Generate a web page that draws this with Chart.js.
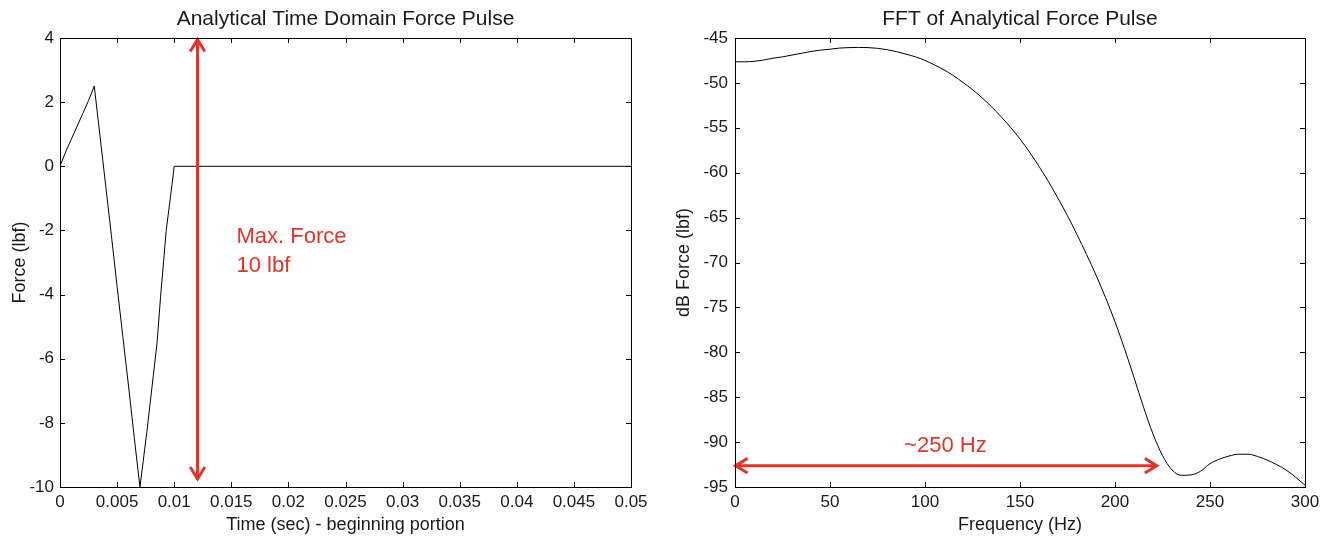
<!DOCTYPE html>
<html>
<head>
<meta charset="utf-8">
<script src="https://cdn.jsdelivr.net/npm/chart.js@4.4.0/dist/chart.umd.min.js"></script>
<style>
    html, body { margin: 0; padding: 0; background: #fff; }
    .panel { position: absolute; top: 0; width: 669px; height: 544px; }
    #leftPanel { left: 0; }
    #rightPanel { left: 669px; }
</style>
</head>
<body>
<div class="panel" id="leftPanel"><canvas id="pulseChart"></canvas></div>
<div class="panel" id="rightPanel"><canvas id="fftChart"></canvas></div>
<script>
// Pulso de fuerza en el dominio del tiempo
const timeSec = [0, 0.0005, 0.001, 0.0015, 0.002, 0.0025, 0.003, 0.0035, 0.004, 0.0045, 0.005, 0.0055, 0.006, 0.0065, 0.007,
    0.0076, 0.0085, 0.0088, 0.0093, 0.0098, 0.01, 0.05];
const forceLbf = [0, 0.45, 0.85, 1.25, 1.65, 2.05, 2.5, 0.95, -0.6, -2.15, -3.75, -5.3, -6.85, -8.45, -10,
    -8.3, -5.5, -4.1, -2.0, -0.6, 0, 0];

// Espectro (FFT) del pulso
const freqHz = [0, 5, 10, 15, 20, 25, 30, 35, 40, 45, 50, 55, 60, 65, 70, 75, 80, 85, 90, 95, 100,
    105, 110, 115, 120, 125, 130, 135, 140, 145, 150, 155, 160, 165, 170, 175, 180, 185, 190, 195, 200,
    205, 210, 215, 220, 225, 230, 235, 240, 245, 250, 255, 260, 265, 270, 275, 280, 285, 290, 295, 300];
const forceDb = [-47.65, -47.65, -47.6, -47.45, -47.25, -47.1, -46.9, -46.7, -46.5, -46.35, -46.25, -46.12, -46.07, -46.05, -46.07,
    -46.15, -46.3, -46.52, -46.8, -47.1, -47.5, -48.0, -48.55, -49.2, -49.95, -50.75, -51.65, -52.65, -53.75, -54.95,
    -56.25, -57.7, -59.3, -61.0, -62.85, -64.8, -66.9, -69.1, -71.4, -73.9, -76.6, -79.6, -82.8, -86.1, -89.1,
    -91.5, -93.1, -93.7, -93.65, -93.25, -92.4, -91.9, -91.55, -91.35, -91.35, -91.6, -92.0, -92.5, -93.1, -93.9, -94.8];

// Marcas de los ejes
const timeTicks = [0, 0.005, 0.01, 0.015, 0.02, 0.025, 0.03, 0.035, 0.04, 0.045, 0.05];
const forceTicks = [4, 2, 0, -2, -4, -6, -8, -10];
const freqTicks = [0, 50, 100, 150, 200, 250, 300];
const dbTicks = [-45, -50, -55, -60, -65, -70, -75, -80, -85, -90, -95];

// Flechas de anotación: [x1, y1, x2, y2] en unidades de datos
const maxForceArrow = [0.01204, 3.95, 0.01204, -9.75];
const bandwidthArrow = [0.3, -92.63, 222, -92.63];

const FONT = "'Liberation Sans', Arial, Helvetica, sans-serif";
const RED = '#e2342b';
const INK = '#1a1a1a';

// Caja tipo MATLAB con marcas hacia adentro en los cuatro lados
const boxPlugin = {
    id: 'boxTicks',
    afterDraw(chart, args, opts) {
        const ctx = chart.ctx;
        const a = chart.chartArea;
        const xs = chart.scales.x, ys = chart.scales.y;
        const len = 5;
        ctx.save();
        ctx.strokeStyle = '#000';
        ctx.lineWidth = 1;
        ctx.beginPath();
        xs.ticks.forEach(t => {
            const px = Math.round(xs.getPixelForValue(t.value)) + 0.5;
            ctx.moveTo(px, a.bottom); ctx.lineTo(px, a.bottom - len);
            ctx.moveTo(px, a.top); ctx.lineTo(px, a.top + len);
        });
        ys.ticks.forEach(t => {
            const py = Math.round(ys.getPixelForValue(t.value)) + 0.5;
            ctx.moveTo(a.left, py); ctx.lineTo(a.left + len, py);
            ctx.moveTo(a.right, py); ctx.lineTo(a.right - len, py);
        });
        ctx.stroke();
        ctx.strokeRect(Math.round(a.left) + 0.5, Math.round(a.top) + 0.5,
            Math.round(a.right - a.left), Math.round(a.bottom - a.top));

        // Título encima del área de la gráfica
        ctx.fillStyle = INK;
        ctx.font = '21px ' + FONT;
        ctx.textAlign = 'center';
        ctx.textBaseline = 'alphabetic';
        ctx.fillText(opts.title, (a.left + a.right) / 2, 25);
        ctx.restore();
    }
};

// Flecha roja con punta abierta en ambos extremos
function drawArrow(ctx, x1, y1, x2, y2) {
    const head = 14, spread = 0.55;
    const ang = Math.atan2(y2 - y1, x2 - x1);
    ctx.beginPath();
    ctx.moveTo(x1, y1); ctx.lineTo(x2, y2);
    [[x1, y1, ang + Math.PI], [x2, y2, ang]].forEach(([x, y, a]) => {
        ctx.moveTo(x - head * Math.cos(a - spread), y - head * Math.sin(a - spread));
        ctx.lineTo(x, y);
        ctx.lineTo(x - head * Math.cos(a + spread), y - head * Math.sin(a + spread));
    });
    ctx.stroke();
}

const annotationPlugin = {
    id: 'redNotes',
    afterDatasetsDraw(chart, args, opts) {
        const ctx = chart.ctx;
        const xs = chart.scales.x, ys = chart.scales.y;
        const arr = opts.arrow;
        ctx.save();
        ctx.strokeStyle = RED;
        ctx.lineWidth = 3;
        ctx.lineCap = 'butt';
        drawArrow(ctx, xs.getPixelForValue(arr[0]), ys.getPixelForValue(arr[1]),
            xs.getPixelForValue(arr[2]), ys.getPixelForValue(arr[3]));
        ctx.fillStyle = RED;
        ctx.font = '22px ' + FONT;
        ctx.textAlign = 'left';
        ctx.textBaseline = 'alphabetic';
        opts.lines.forEach((txt, i) => {
            ctx.fillText(txt, xs.getPixelForValue(opts.at[0]), ys.getPixelForValue(opts.at[1]) + i * 29);
        });
        ctx.restore();
    }
};

function axisOptions(ticks, min, max, title, size, titlePad, labelPad) {
    return {
        type: 'linear',
        min: min,
        max: max,
        afterBuildTicks: scale => { scale.ticks = ticks.map(v => ({ value: v })); },
        afterFit: scale => {
            if (scale.isHorizontal()) scale.height = size; else scale.width = size;
        },
        grid: { display: false, drawTicks: false },
        border: { display: false },
        ticks: {
            color: INK,
            padding: labelPad,
            maxRotation: 0,
            autoSkip: false,
            font: { family: FONT, size: 17 },
            callback: v => String(v)
        },
        title: {
            display: true,
            text: title,
            color: INK,
            font: { family: FONT, size: 18 },
            padding: titlePad
        }
    };
}

function makeChart(id, xVals, yVals, xAxis, yAxis, padRight, smooth, boxOpts, noteOpts) {
    const ctx = document.getElementById(id).getContext('2d');
    return new Chart(ctx, {
        type: 'line',
        data: {
            datasets: [{
                data: xVals.map((x, i) => ({ x: x, y: yVals[i] })),
                borderColor: '#000',
                borderWidth: 1,
                pointRadius: 0,
                cubicInterpolationMode: smooth ? 'monotone' : 'default',
                tension: 0,
                fill: false
            }]
        },
        options: {
            responsive: true,
            maintainAspectRatio: false,
            animation: false,
            layout: { padding: { top: 38, right: padRight, bottom: 0, left: 0 } },
            plugins: {
                legend: { display: false },
                tooltip: { enabled: false },
                boxTicks: boxOpts,
                redNotes: noteOpts
            },
            scales: { x: xAxis, y: yAxis }
        },
        plugins: [boxPlugin, annotationPlugin]
    });
}

window.onload = function () {
    makeChart('pulseChart', timeSec, forceLbf,
        axisOptions(timeTicks, 0, 0.05, 'Time (sec) - beginning portion', 57, { top: 0, bottom: 8 }, 5),
        axisOptions(forceTicks, -10, 4, 'Force (lbf)', 60, { top: 9, bottom: 0 }, 6),
        38, false,
        { title: 'Analytical Time Domain Force Pulse' },
        { arrow: maxForceArrow, lines: ['Max. Force', '10 lbf'], at: [0.01545, -2.4] });

    makeChart('fftChart', freqHz, forceDb,
        axisOptions(freqTicks, 0, 300, 'Frequency (Hz)', 57, { top: 0, bottom: 8 }, 5),
        axisOptions(dbTicks, -95, -45, 'dB Force (lbf)', 66, { top: 4, bottom: 0 }, 7),
        33, true,
        { title: 'FFT of Analytical Force Pulse' },
        { arrow: bandwidthArrow, lines: ['~250 Hz'], at: [89, -91.05] });
};
</script>
</body>
</html>
